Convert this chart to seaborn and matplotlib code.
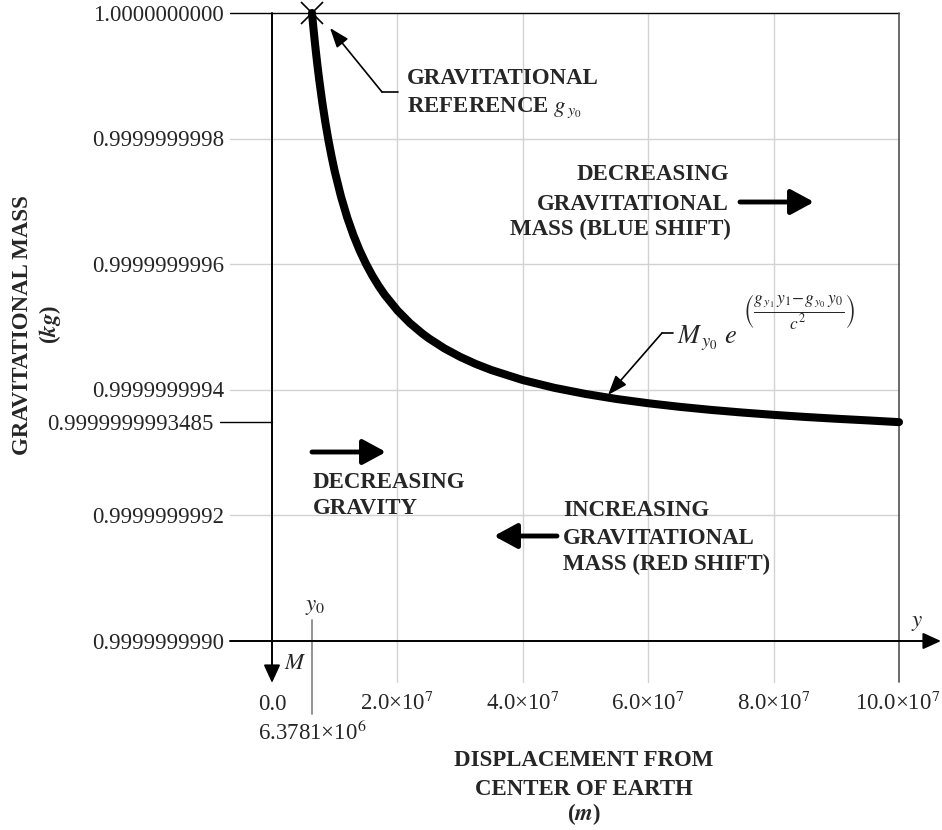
import matplotlib
matplotlib.use("Agg")
import matplotlib.pyplot as plt
import matplotlib.transforms as mtransforms
import pandas as pd
import seaborn as sns

# Gravitational mass of a 1 kg reference body versus distance from Earth's centre
displacement_m = [6.3781e6, 6.45e6, 6.6e6, 6.8e6, 7.0e6, 7.25e6, 7.5e6, 8.0e6, 8.5e6,
                  9.0e6, 9.5e6, 10.0e6, 11.0e6, 12.0e6, 13.0e6, 14.0e6, 15.0e6,
                  16.0e6, 17.0e6, 18.0e6, 20.0e6, 22.0e6, 24.0e6, 25.0e6, 27.5e6,
                  30.0e6, 32.5e6, 35.0e6, 40.0e6, 45.0e6, 50.0e6, 55.0e6, 60.0e6,
                  65.0e6, 70.0e6, 75.0e6, 80.0e6, 85.0e6, 90.0e6, 95.0e6, 100.0e6]
mass_kg = [1.0, 0.99999999999225, 0.9999999999766, 0.9999999999569, 0.9999999999382,
           0.9999999999164, 0.999999999896, 0.999999999859, 0.9999999998264,
           0.9999999997974, 0.9999999997715, 0.9999999997481, 0.9999999997078,
           0.9999999996742, 0.9999999996458, 0.9999999996214, 0.9999999996003,
           0.9999999995818, 0.9999999995655, 0.999999999551, 0.9999999995264,
           0.9999999995062, 0.9999999994894, 0.999999999482, 0.9999999994659,
           0.9999999994525, 0.9999999994411, 0.9999999994314, 0.9999999994155,
           0.9999999994032, 0.9999999993934, 0.9999999993853, 0.9999999993786,
           0.9999999993729, 0.999999999368, 0.9999999993638, 0.9999999993601,
           0.9999999993568, 0.9999999993539, 0.9999999993513, 0.9999999993485]

y_ticks = [0.9999999990, 0.9999999992, 0.9999999994, 0.9999999996, 0.9999999998, 1.0]
y_tick_labels = ["0.9999999990", "0.9999999992", "0.9999999994",
                 "0.9999999996", "0.9999999998", "1.0000000000"]
x_ticks = [0.0, 2e7, 4e7, 6e7, 8e7, 1e8]
x_tick_labels = ["0.0", "2.0×10$^{7}$", "4.0×10$^{7}$",
                 "6.0×10$^{7}$", "8.0×10$^{7}$", "10.0×10$^{7}$"]
reference_y = 6.3781e6
reference_label = "6.3781×10$^{6}$"
final_mass = 0.9999999993485
final_mass_label = "0.9999999993485"

sns.set_theme(style="white")
plt.rcParams["font.family"] = ["Liberation Serif", "DejaVu Serif"]
plt.rcParams["mathtext.fontset"] = "stix"

W, H = 942, 830
fig = plt.figure(figsize=(W / 100, H / 100), dpi=100)
fig.patch.set_facecolor("white")

# plot box in pixel units: left, right, top, bottom
X0, X1, Y0, Y1 = 272, 899, 13, 641
ax = fig.add_axes([X0 / W, 1 - Y1 / H, (X1 - X0) / W, (Y1 - Y0) / H])
ax.set_xlim(0.0, 1e8)
ax.set_ylim(0.9999999990, 1.0)
ax.set_xticks([])
ax.set_yticks([])
for s in ax.spines.values():
    s.set_visible(False)


def ax_x(px):
    return (px - X0) / (X1 - X0)


def ax_y(py):
    return (Y1 - py) / (Y1 - Y0)


def fpx(px, py):
    return (px, H - py)


FS = 16.5


def ftext(px, py, s, **kw):
    kw.setdefault("fontsize", FS)
    return fig.text(px / W, 1 - py / H, s, **kw)


GRID = "#d2d2d2"

# grid lines, extended past the plot box as tick marks
for yv in y_ticks[1:-1]:
    ax.axhline(yv, xmin=ax_x(230), xmax=1, color=GRID, lw=1, clip_on=False, zorder=1)
ax.axhline(y_ticks[-1], xmin=ax_x(230), xmax=1, color="black", lw=1, clip_on=False, zorder=2)
for xv in x_ticks[1:-1]:
    ax.axvline(xv, ymin=ax_y(682), ymax=1, color=GRID, lw=1, clip_on=False, zorder=1)
ax.axvline(x_ticks[-1], ymin=ax_y(682), ymax=1, color="#505050", lw=1.2, clip_on=False, zorder=2)
ax.axhline(final_mass, xmin=ax_x(220), xmax=0, color="black", lw=1, clip_on=False)
ax.axvline(reference_y, ymin=ax_y(714), ymax=ax_y(620), color="#808080", lw=1.2, clip_on=False)

# coordinate axes with arrow heads
axis_arrow = dict(arrowstyle="-|>,head_length=0.55,head_width=0.25", color="black",
                  lw=1.4, mutation_scale=20, shrinkA=0, shrinkB=0)
ax.annotate("", xy=(ax_x(941), 0), xytext=(ax_x(230), 0), xycoords="axes fraction",
            arrowprops=axis_arrow, annotation_clip=False)
ax.annotate("", xy=(0, ax_y(683)), xytext=(0, 1), xycoords="axes fraction",
            arrowprops=axis_arrow, annotation_clip=False)

# mass curve
df = pd.DataFrame({"displacement": displacement_m, "mass": mass_kg})
sns.lineplot(data=df, x="displacement", y="mass", color="black", linewidth=5.8,
             estimator=None, sort=False, ax=ax, zorder=4)
curve = ax.lines[-1]
curve.set_clip_on(False)
curve.set_solid_capstyle("round")
curve.set_solid_joinstyle("round")
ax.set_xlabel("")
ax.set_ylabel("")
ax.plot([reference_y], [mass_kg[0]], marker="x", ms=16, mew=1.2, color="black",
        clip_on=False, zorder=5)

# tick labels
ytr = ax.get_yaxis_transform() + mtransforms.ScaledTranslation(0, -7.5 / 100, fig.dpi_scale_trans)
for v, lab in zip(y_ticks, y_tick_labels):
    ax.text(ax_x(224), v, lab, transform=ytr, ha="right", va="baseline", fontsize=FS)
ax.text(ax_x(214), final_mass, final_mass_label, transform=ytr, ha="right",
        va="baseline", fontsize=FS)
xtr = ax.get_xaxis_transform()
for v, lab in zip(x_ticks, x_tick_labels):
    xt = ax.text(v, ax_y(709.5), lab, transform=xtr, ha="center", va="baseline", fontsize=FS)
    if v == x_ticks[-1]:
        xt.set_ha("right")
        xt.set_transform(xtr + mtransforms.ScaledTranslation(41 / 100, 0, fig.dpi_scale_trans))
ax.text(reference_y, ax_y(739.5), reference_label, transform=xtr, ha="center",
        va="baseline", fontsize=FS)

# axis symbols
ftext(917, 626, r"$y$", ha="center", va="baseline")
ftext(295, 669, r"$M$", ha="center", va="baseline")
ftext(315, 610, r"$y_0$", ha="center", va="baseline")

# axis titles
ftext(584, 765.5, "DISPLACEMENT FROM", ha="center", va="baseline", fontweight="bold")
ftext(584, 794.5, "CENTER OF EARTH", ha="center", va="baseline", fontweight="bold")
ftext(584, 820.5, r"($\mathbfit{m}$)", ha="center", va="baseline", fontweight="bold")
ftext(23, 325, "GRAVITATIONAL MASS", rotation=90, ha="center", va="center", fontweight="bold")
ftext(50, 325, r"($\mathbfit{kg}$)", rotation=90, ha="center", va="center", fontweight="bold")

# annotations
bold = dict(fontweight="bold", va="baseline")
ftext(407, 84.5, "GRAVITATIONAL", ha="left", **bold)
ftext(407, 112.5, r"REFERENCE $g_{\,y_0}$", ha="left", **bold)

ftext(729, 179.5, "DECREASING", ha="right", **bold)
ftext(729, 209.5, "GRAVITATIONAL", ha="right", **bold)
ftext(731, 235.5, "MASS (BLUE SHIFT)", ha="right", **bold)

ftext(313, 487.5, "DECREASING", ha="left", **bold)
ftext(313, 514.5, "GRAVITY", ha="left", **bold)

ftext(563, 515.5, "INCREASING", ha="left", **bold)
ftext(563, 543.5, "GRAVITATIONAL", ha="left", **bold)
ftext(563, 570.5, "MASS (RED SHIFT)", ha="left", **bold)

ftext(677, 343, r"$M_{\,y_0}\ e$", ha="left", va="baseline", fontsize=19)
ftext(743, 313, r"$\left(\dfrac{g_{\,y_1}\,y_1\!-\!g_{\,y_0}\,y_0}{c^2}\right)$",
      ha="left", va="center", fontsize=12.5)

thick = dict(arrowstyle="-|>,head_length=0.7,head_width=0.38", color="black", lw=3.5,
             mutation_scale=20, shrinkA=0, shrinkB=0)
for start, end in [((312, 452), (386, 452)), ((740, 202), (814, 202)),
                   ((557, 536), (494, 536))]:
    ax.annotate("", xy=fpx(*end), xytext=fpx(*start), xycoords="figure pixels",
                arrowprops=thick, annotation_clip=False)

thin = dict(arrowstyle="-|>,head_length=0.6,head_width=0.22", color="black", lw=1.2,
            mutation_scale=20, shrinkA=0, shrinkB=0)
plain = dict(arrowstyle="-", color="black", lw=1.2, shrinkA=0, shrinkB=0)
ax.annotate("", xy=fpx(382, 92), xytext=fpx(398, 92), xycoords="figure pixels",
            arrowprops=plain, annotation_clip=False)
ax.annotate("", xy=fpx(330, 28), xytext=fpx(382, 92), xycoords="figure pixels",
            arrowprops=thin, annotation_clip=False)
ax.annotate("", xy=fpx(662, 333), xytext=fpx(673, 333), xycoords="figure pixels",
            arrowprops=plain, annotation_clip=False)
ax.annotate("", xy=fpx(608, 395), xytext=fpx(662, 333), xycoords="figure pixels",
            arrowprops=thin, annotation_clip=False)

fig.savefig("out.png", dpi=100, facecolor="white")
